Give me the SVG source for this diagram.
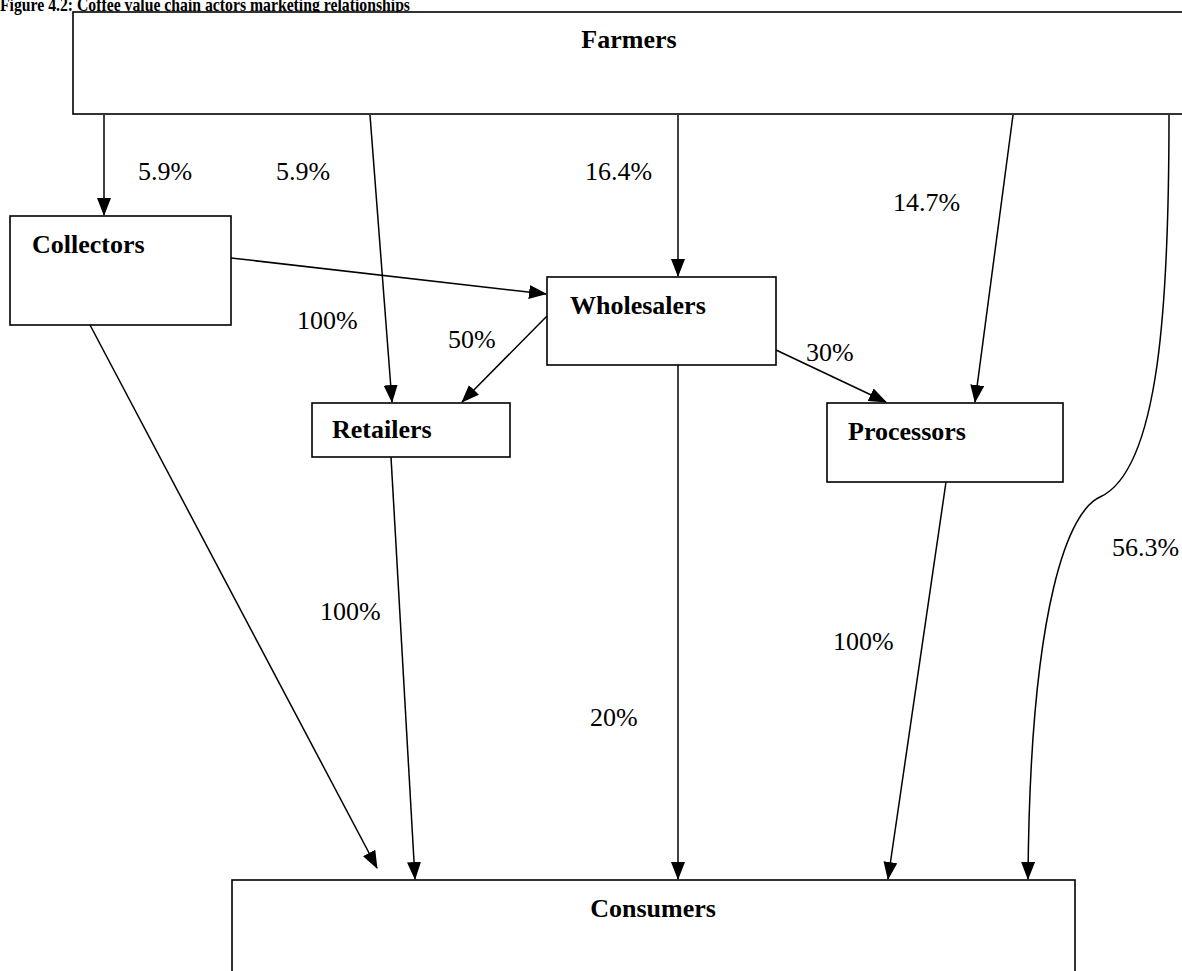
<svg xmlns="http://www.w3.org/2000/svg" width="1182" height="971" viewBox="0 0 1182 971">
<defs>
<marker id="arr" markerUnits="userSpaceOnUse" markerWidth="18" markerHeight="14" viewBox="0 0 18 14" refX="17" refY="7" orient="auto">
<path d="M0,0 L18,7 L0,14 Z" fill="#000"/>
</marker>
</defs>
<style>
.box{fill:#fff;stroke:#000;stroke-width:1.6}
.name{font-family:"Liberation Serif","Times New Roman",serif;font-weight:bold;font-size:26px;fill:#000}
.lbl{font-family:"Liberation Serif","Times New Roman",serif;font-size:26px;fill:#000}
.ln{fill:none;stroke:#000;stroke-width:1.5}
.arr{marker-end:url(#arr)}
</style>
<rect width="1182" height="971" fill="#fff"/>
<text x="0" y="11" class="name" style="font-size:19px" textLength="410" lengthAdjust="spacingAndGlyphs">Figure 4.2: Coffee value chain actors marketing relationships</text>

<g id="farmers">
<rect class="box" x="73" y="12" width="1120" height="102"/>
<text class="name" x="629" y="48" text-anchor="middle">Farmers</text>
</g>
<g id="collectors">
<rect class="box" x="10" y="216" width="221" height="109"/>
<text class="name" x="32" y="253">Collectors</text>
</g>
<g id="wholesalers">
<rect class="box" x="547" y="277" width="229" height="88"/>
<text class="name" x="570" y="314">Wholesalers</text>
</g>
<g id="retailers">
<rect class="box" x="312" y="403" width="198" height="54"/>
<text class="name" x="332" y="438">Retailers</text>
</g>
<g id="processors">
<rect class="box" x="827" y="403" width="236" height="79"/>
<text class="name" x="848" y="440">Processors</text>
</g>
<g id="consumers">
<rect class="box" x="232" y="880" width="843" height="100"/>
<text class="name" x="653" y="917" text-anchor="middle">Consumers</text>
</g>

<g id="connectors">
<path class="ln arr" d="M104,115 L104,215"/>
<path class="ln arr" d="M370,115 L392,402"/>
<path class="ln arr" d="M678,115 L678,276"/>
<path class="ln arr" d="M1013,115 L975,402"/>
<path class="ln arr" d="M1169,115 C1169,300 1160,470 1100,497 C1070,510 1030,600 1028,879"/>
<path class="ln arr" d="M231,258 L546,294"/>
<path class="ln arr" d="M547,316 L462,402"/>
<path class="ln arr" d="M776,350 L886,402"/>
<path class="ln arr" d="M90,325 L377,868"/>
<path class="ln arr" d="M391,457 L415,879"/>
<path class="ln arr" d="M678,365 L678,879"/>
<path class="ln arr" d="M946,482 L888,879"/>
</g>

<g id="labels">
<text class="lbl" x="138" y="180">5.9%</text>
<text class="lbl" x="276" y="180">5.9%</text>
<text class="lbl" x="585" y="180">16.4%</text>
<text class="lbl" x="893" y="211">14.7%</text>
<text class="lbl" x="297" y="329">100%</text>
<text class="lbl" x="448" y="348">50%</text>
<text class="lbl" x="806" y="361">30%</text>
<text class="lbl" x="1112" y="556">56.3%</text>
<text class="lbl" x="320" y="620">100%</text>
<text class="lbl" x="833" y="650">100%</text>
<text class="lbl" x="590" y="726">20%</text>
</g>
</svg>
